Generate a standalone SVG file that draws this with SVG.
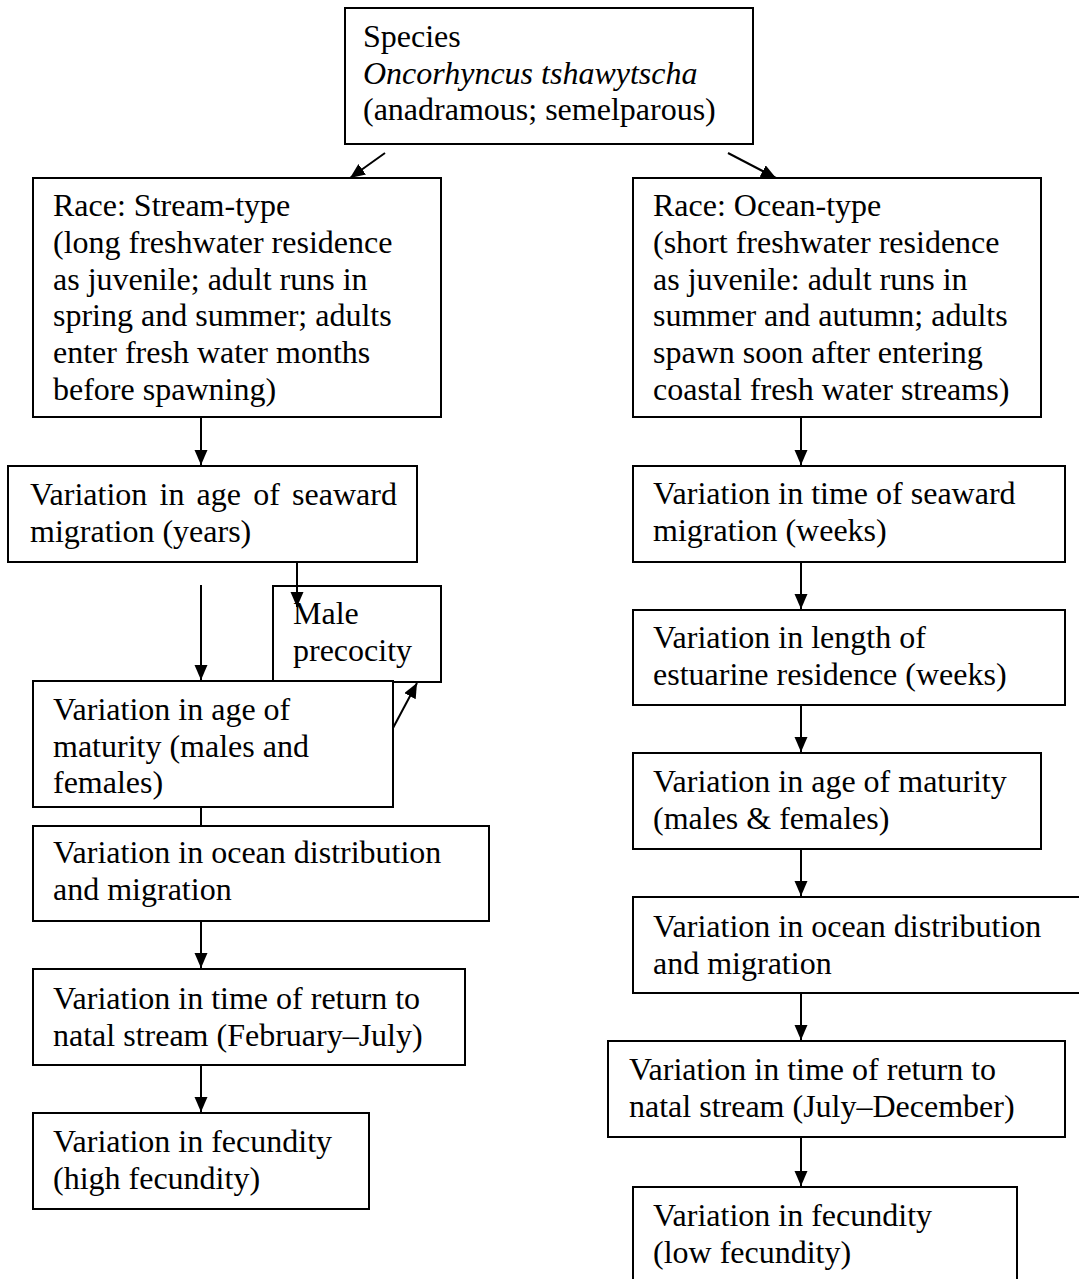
<svg xmlns="http://www.w3.org/2000/svg" width="1079" height="1279" viewBox="0 0 1079 1279">
<style>
.box{fill:#fff;stroke:#000;stroke-width:2}
.t{font-family:"Liberation Serif","Times New Roman",serif;font-size:32px;fill:#000}
.i{font-style:italic}
.c{stroke:#000;stroke-width:2;fill:none}
.a{marker-end:url(#ah)}
</style>
<defs>
<marker id="ah" markerUnits="userSpaceOnUse" markerWidth="16" markerHeight="14" refX="15" refY="6.5" orient="auto">
<path d="M0,0 L15,6.5 L0,13 z" fill="#000"/>
</marker>
</defs>
<rect width="1079" height="1279" fill="#fff"/>

<g id="species">
<rect class="box" x="345" y="8" width="408" height="136"/>
<text class="t" x="363" y="47">Species</text>
<text class="t i" x="363" y="83.5">Oncorhyncus tshawytscha</text>
<text class="t" x="363" y="120">(anadramous; semelparous)</text>
</g>

<g id="race-stream">
<rect class="box" x="33" y="178" width="408" height="239"/>
<text class="t" x="53" y="216">Race: Stream-type</text>
<text class="t" x="53" y="252.8">(long freshwater residence</text>
<text class="t" x="53" y="289.6">as juvenile; adult runs in</text>
<text class="t" x="53" y="326.4">spring and summer; adults</text>
<text class="t" x="53" y="363.2">enter fresh water months</text>
<text class="t" x="53" y="400">before spawning)</text>
</g>

<g id="race-ocean">
<rect class="box" x="633" y="178" width="408" height="239"/>
<text class="t" x="653" y="216">Race: Ocean-type</text>
<text class="t" x="653" y="252.8">(short freshwater residence</text>
<text class="t" x="653" y="289.6">as juvenile: adult runs in</text>
<text class="t" x="653" y="326.4">summer and autumn; adults</text>
<text class="t" x="653" y="363.2">spawn soon after entering</text>
<text class="t" x="653" y="400">coastal fresh water streams)</text>
</g>

<g id="left-seaward">
<rect class="box" x="8" y="466" width="409" height="96"/>
<text class="t" x="30" y="505" word-spacing="4.2">Variation in age of seaward</text>
<text class="t" x="30" y="542">migration (years)</text>
</g>

<g id="male-precocity">
<rect class="box" x="273" y="586" width="168" height="96"/>
<text class="t" x="293" y="624">Male</text>
<text class="t" x="293" y="661">precocity</text>
</g>

<g id="left-maturity">
<rect class="box" x="33" y="681" width="360" height="126"/>
<text class="t" x="53" y="720">Variation in age of</text>
<text class="t" x="53" y="757">maturity (males and</text>
<text class="t" x="53" y="793">females)</text>
</g>

<g id="left-ocean">
<rect class="box" x="33" y="826" width="456" height="95"/>
<text class="t" x="53" y="863">Variation in ocean distribution</text>
<text class="t" x="53" y="900">and migration</text>
</g>

<g id="left-return">
<rect class="box" x="33" y="969" width="432" height="96"/>
<text class="t" x="53" y="1009">Variation in time of return to</text>
<text class="t" x="53" y="1046">natal stream (February–July)</text>
</g>

<g id="left-fecundity">
<rect class="box" x="33" y="1113" width="336" height="96"/>
<text class="t" x="53" y="1152">Variation in fecundity</text>
<text class="t" x="53" y="1189">(high fecundity)</text>
</g>

<g id="right-seaward">
<rect class="box" x="633" y="466" width="432" height="96"/>
<text class="t" x="653" y="504">Variation in time of seaward</text>
<text class="t" x="653" y="541">migration (weeks)</text>
</g>

<g id="right-estuarine">
<rect class="box" x="633" y="610" width="432" height="95"/>
<text class="t" x="653" y="648">Variation in length of</text>
<text class="t" x="653" y="685">estuarine residence (weeks)</text>
</g>

<g id="right-maturity">
<rect class="box" x="633" y="753" width="408" height="96"/>
<text class="t" x="653" y="792">Variation in age of maturity</text>
<text class="t" x="653" y="829">(males &amp; females)</text>
</g>

<g id="right-ocean">
<rect class="box" x="633" y="897" width="460" height="96"/>
<text class="t" x="653" y="937">Variation in ocean distribution</text>
<text class="t" x="653" y="974">and migration</text>
</g>

<g id="right-return">
<rect class="box" x="608" y="1041" width="457" height="96"/>
<text class="t" x="629" y="1080">Variation in time of return to</text>
<text class="t" x="629" y="1117">natal stream (July–December)</text>
</g>

<g id="right-fecundity">
<rect class="box" x="633" y="1187" width="384" height="110"/>
<text class="t" x="653" y="1226">Variation in fecundity</text>
<text class="t" x="653" y="1263">(low fecundity)</text>
</g>

<g id="connectors">
<line class="c a" x1="385" y1="153" x2="350" y2="178"/>
<line class="c a" x1="728" y1="153" x2="776" y2="178"/>
<line class="c a" x1="201" y1="417" x2="201" y2="465"/>
<line class="c a" x1="201" y1="585" x2="201" y2="680"/>
<line class="c a" x1="297" y1="562" x2="297" y2="607"/>
<line class="c a" x1="393" y1="728" x2="417" y2="683"/>
<line class="c" x1="201" y1="807" x2="201" y2="826"/>
<line class="c a" x1="201" y1="921" x2="201" y2="968"/>
<line class="c a" x1="201" y1="1065" x2="201" y2="1112"/>
<line class="c a" x1="801" y1="417" x2="801" y2="465"/>
<line class="c a" x1="801" y1="562" x2="801" y2="609"/>
<line class="c a" x1="801" y1="705" x2="801" y2="752"/>
<line class="c a" x1="801" y1="849" x2="801" y2="896"/>
<line class="c a" x1="801" y1="993" x2="801" y2="1040"/>
<line class="c a" x1="801" y1="1137" x2="801" y2="1186"/>
</g>
</svg>
